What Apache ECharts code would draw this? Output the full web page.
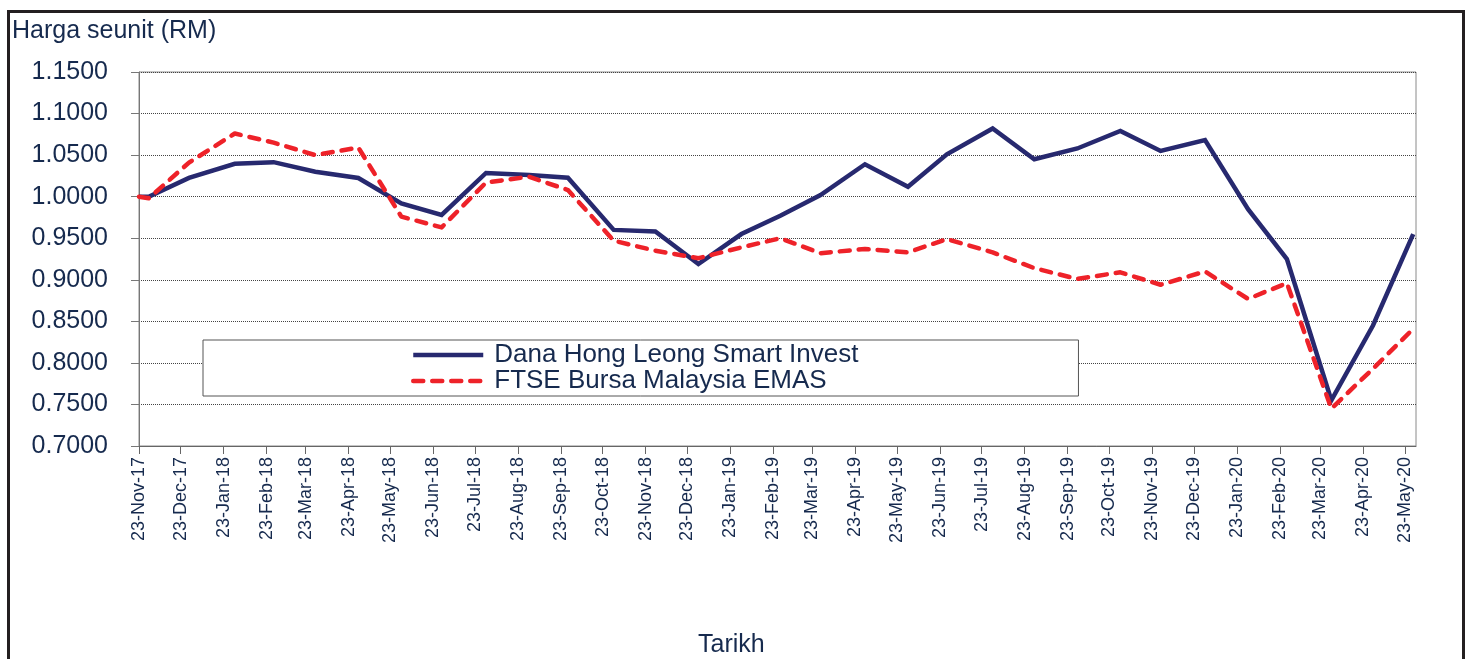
<!DOCTYPE html>
<html>
<head>
<meta charset="utf-8">
<script src="https://cdn.jsdelivr.net/npm/echarts@6/dist/echarts.min.js"></script>
<style>
  html, body { margin: 0; padding: 0; background: #fff; overflow: hidden; }
  #wrap { position: relative; width: 1466px; height: 659px; }
  #chart { position: absolute; left: 0; top: 0; width: 1466px; height: 659px; }
  #frame { position: absolute; left: 7px; top: 10px; width: 1452px; height: 700px;
           border: 3px solid #231f20; pointer-events: none; }
</style>
</head>
<body>
<div id="wrap">
  <div id="chart"></div>
  <div id="frame"></div>
</div>
<script>
// ---- data ----
const dates = [
  '2017-11-23','2017-11-30','2017-12-29','2018-01-31','2018-02-28','2018-03-30',
  '2018-04-30','2018-05-31','2018-06-29','2018-07-31','2018-08-31','2018-09-28',
  '2018-10-31','2018-11-30','2018-12-31','2019-01-31','2019-02-28','2019-03-29',
  '2019-04-30','2019-05-31','2019-06-28','2019-07-31','2019-08-30','2019-09-30',
  '2019-10-31','2019-11-29','2019-12-31','2020-01-31','2020-02-28','2020-03-31',
  '2020-04-30','2020-05-29'
];
const danaValues = [
  1.000, 1.000, 1.0225, 1.0395, 1.0415, 1.030,
  1.0225, 0.992, 0.978, 1.0285, 1.026, 1.0228,
  0.960, 0.958, 0.919, 0.955, 0.977, 1.002,
  1.039, 1.012, 1.051, 1.082, 1.045, 1.058,
  1.079, 1.055, 1.068, 0.985, 0.925, 0.755,
  0.845, 0.955
];
const ftseValues = [
  1.000, 0.998, 1.041, 1.076, 1.065, 1.050,
  1.059, 0.976, 0.963, 1.017, 1.024, 1.008,
  0.947, 0.935, 0.926, 0.939, 0.950, 0.932,
  0.937, 0.933, 0.949, 0.933, 0.914, 0.901,
  0.909, 0.894, 0.910, 0.877, 0.896, 0.745,
  0.793, 0.841
];
const seriesNames = ['Dana Hong Leong Smart Invest', 'FTSE Bursa Malaysia EMAS'];
const tickDates = [
  '2017-11-23','2017-12-23','2018-01-23','2018-02-23','2018-03-23','2018-04-23',
  '2018-05-23','2018-06-23','2018-07-23','2018-08-23','2018-09-23','2018-10-23',
  '2018-11-23','2018-12-23','2019-01-23','2019-02-23','2019-03-23','2019-04-23',
  '2019-05-23','2019-06-23','2019-07-23','2019-08-23','2019-09-23','2019-10-23',
  '2019-11-23','2019-12-23','2020-01-23','2020-02-23','2020-03-23','2020-04-23',
  '2020-05-23'
];
const monthNames = ['Jan','Feb','Mar','Apr','May','Jun','Jul','Aug','Sep','Oct','Nov','Dec'];
const axisStart = '2017-11-23';
const axisEnd = '2020-05-31';
const yTitle = 'Harga seunit (RM)';
const xTitle = 'Tarikh';

// ---- helpers ----
function toTime(s) {
  const p = s.split('-').map(Number);
  return new Date(p[0], p[1] - 1, p[2]).getTime();
}
function fmtDate(v) {
  const d = new Date(v);
  const yy = String(d.getFullYear() % 100).padStart(2, '0');
  return d.getDate() + '-' + monthNames[d.getMonth()] + '-' + yy;
}

const FONT = 'Liberation Sans, Arial, Helvetica, sans-serif';
const TEXT = '#162a4e';
const BLUE = '#27296f';
const RED = '#ee2229';
const tickTimes = tickDates.map(toTime);

const blueLine = { color: BLUE, width: 4.5, join: 'miter' };
const redLine = { color: RED, width: 4.5, type: [10, 9], cap: 'round', join: 'round' };

const chart = echarts.init(document.getElementById('chart'), null, { renderer: 'canvas' });
chart.setOption({
  animation: false,
  backgroundColor: '#fff',
  textStyle: { fontFamily: FONT, color: TEXT },
  title: [
    { text: yTitle, left: 12, top: 19, padding: 0,
      textStyle: { fontFamily: FONT, fontSize: 25, fontWeight: 'normal', color: TEXT } },
    { text: xTitle, left: 698, top: 633, padding: 0,
      textStyle: { fontFamily: FONT, fontSize: 25, fontWeight: 'normal', color: TEXT } }
  ],
  grid: {
    left: 139, right: 50, top: 72, bottom: 213,
    show: true, borderColor: '#8a8a8a', borderWidth: 1, backgroundColor: 'transparent'
  },
  legend: {
    orient: 'vertical',
    left: 203, top: 340,
    padding: [2, 220, 2, 208],
    itemWidth: 70, itemHeight: 14, itemGap: 0,
    backgroundColor: '#fff',
    borderColor: '#555', borderWidth: 1,
    textStyle: { fontFamily: FONT, fontSize: 26, color: TEXT, lineHeight: 25, padding: [0, 0, 0, 6] },
    data: [
      { name: seriesNames[0], itemStyle: { opacity: 0 }, lineStyle: blueLine },
      { name: seriesNames[1], itemStyle: { opacity: 0 }, lineStyle: redLine }
    ]
  },
  xAxis: {
    type: 'value',
    min: toTime(axisStart),
    max: toTime(axisEnd),
    axisLine: { show: true, lineStyle: { color: '#666', width: 1 } },
    axisTick: { show: true, length: 8, customValues: tickTimes, lineStyle: { color: '#666' } },
    axisLabel: {
      customValues: tickTimes,
      rotate: 90, margin: 11,
      fontFamily: FONT, fontSize: 18, color: TEXT,
      formatter: function (v) { return fmtDate(v); },
      hideOverlap: false
    },
    splitLine: { show: false }
  },
  yAxis: {
    type: 'value',
    min: 0.7, max: 1.15, interval: 0.05,
    axisLine: { show: true, lineStyle: { color: '#777', width: 1 } },
    axisTick: { show: true, length: 8, lineStyle: { color: '#777' } },
    axisLabel: {
      margin: 31, fontFamily: FONT, fontSize: 25, color: TEXT,
      formatter: function (v) { return v.toFixed(4); }
    },
    splitLine: { show: true, lineStyle: { color: '#444', type: 'dotted', width: 1 } }
  },
  series: [
    {
      name: seriesNames[0], type: 'line', symbol: 'none', z: 3,
      data: dates.map((d, i) => [toTime(d), danaValues[i]]),
      lineStyle: blueLine,
      itemStyle: { color: BLUE }
    },
    {
      name: seriesNames[1], type: 'line', symbol: 'none', z: 4,
      data: dates.map((d, i) => [toTime(d), ftseValues[i]]),
      lineStyle: redLine,
      itemStyle: { color: RED }
    }
  ]
});
</script>
</body>
</html>
